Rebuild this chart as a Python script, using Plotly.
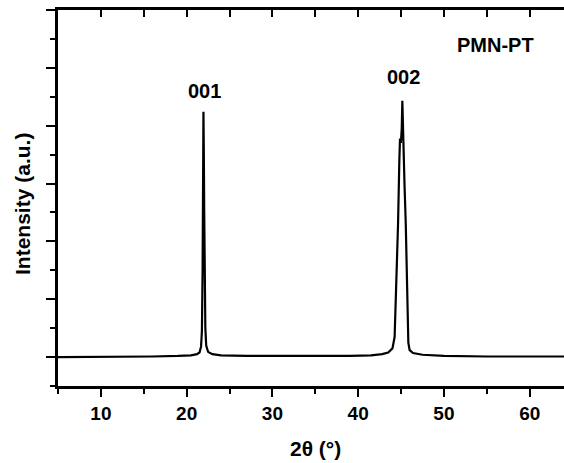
import plotly.graph_objects as go

# 2theta (deg) and intensity (a.u.)
two_theta = [5.0, 8.0, 12.0, 16.0, 19.0, 20.5, 21.2, 21.5, 21.68, 21.78, 21.86, 21.92, 21.96,
             22.0, 22.05, 22.11, 22.18, 22.28, 22.5, 23.0, 24.0, 27.0, 31.0, 35.0, 39.0,
             41.5, 42.8, 43.5, 44.0, 44.25, 44.45, 44.65, 44.8, 44.88, 44.98, 45.08, 45.15,
             45.25, 45.4, 45.55, 45.65, 45.75, 45.85, 46.0, 46.4, 47.5, 50.0, 55.0, 60.0, 64.5]
intensity = [0.00, 0.00, 0.01, 0.01, 0.02, 0.03, 0.05, 0.08, 0.18, 0.45, 1.50, 3.00, 4.24,
             3.60, 2.50, 1.40, 0.50, 0.20, 0.09, 0.05, 0.03, 0.02, 0.02, 0.01, 0.02,
             0.03, 0.05, 0.08, 0.15, 0.35, 1.20, 2.30, 3.40, 3.78, 3.70, 3.95, 4.43,
             3.70, 3.00, 2.30, 1.40, 0.70, 0.25, 0.12, 0.07, 0.04, 0.02, 0.01, 0.01, 0.01]

peak_labels = ["001", "002"]
peak_label_x = [22.04, 45.25]
peak_label_y = [4.60, 4.84]
sample_label = "PMN-PT"
sample_label_x = 56.05
sample_label_y = 5.39

x_range = [5, 64.0]
y_range = [-0.5, 6.0]

FONT = "Liberation Sans, Arial, sans-serif"

fig = go.Figure()
# invisible copy on the top axis so that axis (with its inward ticks) is drawn
fig.add_trace(go.Scatter(x=two_theta, y=intensity, mode="lines", xaxis="x2", yaxis="y",
                         line=dict(color="rgba(0,0,0,0)", width=1), showlegend=False,
                         hoverinfo="skip"))
fig.add_trace(go.Scatter(x=two_theta, y=intensity, mode="lines",
                         line=dict(color="black", width=2.2), showlegend=False,
                         hoverinfo="skip"))

for t, xv, yv in zip(peak_labels, peak_label_x, peak_label_y):
    fig.add_annotation(x=xv, y=yv, xref="x", yref="y", text=f"<b>{t}</b>", showarrow=False,
                       font=dict(family=FONT, size=20, color="black"),
                       xanchor="center", yanchor="middle")
fig.add_annotation(x=sample_label_x, y=sample_label_y, xref="x", yref="y",
                   text=f"<b>{sample_label}</b>", showarrow=False,
                   font=dict(family=FONT, size=20, color="black"),
                   xanchor="center", yanchor="middle")

# axis titles
fig.add_annotation(x=35, y=-0.167, xref="x", yref="paper", text="<b>2θ (°)</b>",
                   showarrow=False, font=dict(family=FONT, size=21, color="black"),
                   xanchor="center", yanchor="middle")
fig.add_annotation(x=-0.07, y=0.483, xref="paper", yref="paper", text="<b>Intensity (a.u.)</b>",
                   showarrow=False, textangle=-90, font=dict(family=FONT, size=21, color="black"),
                   xanchor="center", yanchor="middle")

fig.update_layout(
    width=564, height=463,
    margin=dict(l=58, r=0, t=10, b=77, autoexpand=False),
    paper_bgcolor="white", plot_bgcolor="white",
    font=dict(family=FONT, color="black"),
    xaxis=dict(range=x_range, showgrid=False, zeroline=False, showline=True, mirror=True,
               automargin=False,
               linecolor="black", linewidth=2.5, ticks="outside", ticklen=8, tickwidth=2,
               tickcolor="black", tick0=0, dtick=10,
               tickfont=dict(family=FONT, size=19, color="black"),
               tickprefix="<b>", ticksuffix="</b>",
               minor=dict(dtick=5, ticks="outside", ticklen=5, tickwidth=2, tickcolor="black")),
    xaxis2=dict(range=x_range, overlaying="x", side="top", anchor="y", automargin=False,
                showgrid=False, zeroline=False, showline=True, linecolor="black", linewidth=2.5,
                ticks="inside", ticklen=7, tickwidth=2, tickcolor="black", tick0=0, dtick=10,
                showticklabels=False,
                minor=dict(dtick=5, ticks="inside", ticklen=7, tickwidth=2, tickcolor="black")),
    yaxis=dict(range=y_range, showgrid=False, zeroline=False, showline=True, automargin=False,
               linecolor="black", linewidth=2.5, ticks="outside", ticklen=9, tickwidth=2,
               tickcolor="black", tick0=0, dtick=1, showticklabels=False,
               minor=dict(dtick=0.5, ticks="outside", ticklen=5, tickwidth=2, tickcolor="black")),
)

fig.write_html("out.html")
